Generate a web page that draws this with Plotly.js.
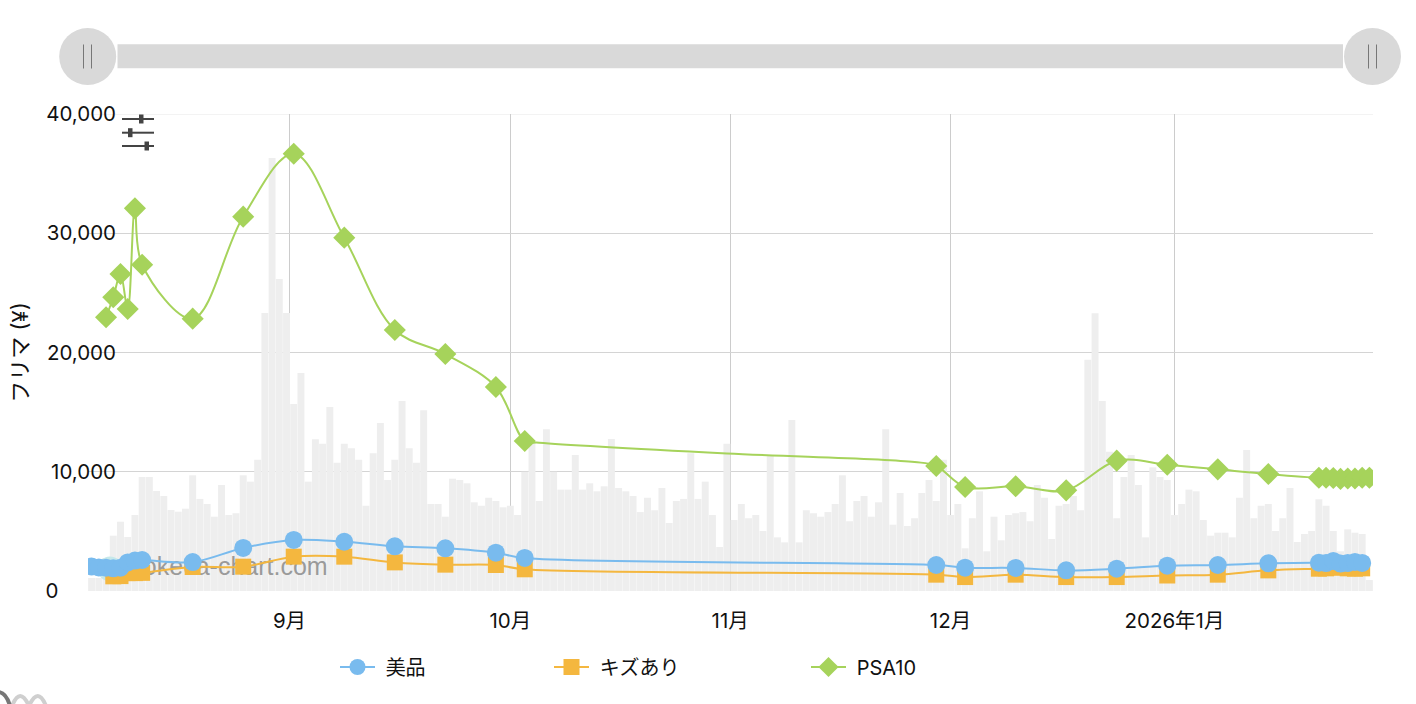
<!DOCTYPE html>
<html><head><meta charset="utf-8">
<script src="https://cdn.plot.ly/plotly-3.0.1.min.js"></script>
<style>html,body{margin:0;padding:0;background:#fff;overflow:hidden}</style>
</head><body><div id="chart" style="width:1416px;height:704px"></div>
<script>
const tickPositions=[27.41,58.0,88.46,118.97,150.0];
const tickLabels=['9月','10月','11月','12月','2026年1月'];
const yTicks=[0,10000,20000,30000,40000];
const pad='\u00A0'.repeat(10);
const yTickLabels=['0'+pad,'10,000','20,000','30,000','40,000'];
const volumeBars=[1090,1090,2770,4640,5810,4530,6370,9560,9560,8390,7970,6790,6650,6900,9700,7720,7300,6230,8890,6370,6520,9700,9170,11010,23310,36310,26160,23310,15680,18280,9170,12720,12350,15430,10760,12350,11970,11010,7150,11550,14090,9310,11010,15930,11970,10760,15150,7300,7300,6230,9420,9310,9030,7440,7150,7820,7550,7020,7150,6370,10000,12410,7550,13560,10000,8500,8500,11400,8500,9030,8360,8780,12750,8640,8360,7970,6620,7820,6770,8640,5700,7550,7720,11550,7720,9170,6370,3690,12350,5950,7300,6100,6370,5030,11400,4500,4080,14340,4080,6770,6520,6230,6620,7300,9700,5850,7550,7970,6230,7440,13560,5560,8220,5450,6100,8220,9310,7550,11010,6370,7300,3580,6100,8360,3330,6230,4250,6370,6520,6620,5850,8890,7820,4360,7150,7300,7970,6770,19400,23290,15930,11680,6100,9560,11400,8890,4500,10370,9560,9310,6370,7300,8500,8360,5950,4640,4890,4890,4500,7820,11820,6100,7150,7300,5030,6100,8640,4110,4780,5030,7690,7150,5030,3330,5170,4890,4780,920];
const barIndex=volumeBars.map((_,i)=>i);
const bihinX=[0,1,2,3,4,5,6,7,14,21,28,35,42,49,56,60,117,121,128,135,142,149,156,163,170,171,172,173,174,175,176];
const bihinY=[2050,1980,1950,1900,1950,2400,2550,2600,2430,3610,4280,4130,3750,3580,3210,2770,2180,1960,1930,1730,1870,2120,2180,2320,2370,2340,2520,2300,2340,2440,2350];
const kizuX=[3,4,5,6,7,14,21,28,35,42,49,56,60,117,121,128,135,142,149,156,163,170,171,172,173,174,175,176];
const kizuY=[1230,1250,1500,1500,1520,2010,2040,2880,2880,2400,2210,2180,1820,1370,1170,1370,1170,1170,1300,1370,1730,1870,1900,2000,1950,1900,1870,1900];
// The long gap after 10月 carries line readings (62, 88, 114) with no marker on them.
const psaX=[2,3,4,5,6,7,14,21,28,35,42,49,56,60,62,88,114,117,121,128,135,142,149,156,163,170,171,172,173,174,175,176,177];
const psaY=[22950,24630,26580,23650,32090,27360,22840,31390,36670,29630,21890,19870,17110,12580,12440,11540,10820,10480,8720,8780,8440,10930,10590,10200,9810,9500,9500,9480,9400,9430,9440,9500,9500];
const psaMarkerSizes=[17,17,17,17,17,17,17,17,17,17,17,17,17,17,0,0,0,17,17,17,17,17,17,17,17,17,17,17,17,17,17,17,17];
const seriesNames=['\u00A0美品','\u00A0キズあり','\u00A0PSA10'];
const watermarkText='pokeca-chart.com';
const yTitle='フリマ (¥)';

const FONT="Inter, 'Noto Sans CJK JP', sans-serif";
const L=88,R=1373,T=114,B=591;
const fx=p=>(p-L)/(R-L), fy=p=>(B-p)/(B-T);
const line=(c,w)=>({color:c,width:w});
function rect(x0,y0,x1,y1,fill){return {type:'rect',xref:'paper',yref:'paper',x0:fx(x0),x1:fx(x1),y0:fy(y0),y1:fy(y1),fillcolor:fill,line:{width:0},layer:'above'};}
function seg(x0,y0,x1,y1,c,w,layer){return {type:'line',xref:'paper',yref:'paper',x0:fx(x0),x1:fx(x1),y0:fy(y0),y1:fy(y1),line:line(c,w),layer:layer||'above'};}
function circ(cx,cy,r,fill){return {type:'circle',xref:'paper',yref:'paper',x0:fx(cx-r),x1:fx(cx+r),y0:fy(cy-r),y1:fy(cy+r),fillcolor:fill,line:{width:0},layer:'above'};}
function path(pts,c,w){
  const s=pts.map(a=>{const o=[a[0]];for(let i=1;i<a.length;i+=2){o.push(fx(a[i])+','+fy(a[i+1]));}return o.join(' ');}).join(' ');
  return {type:'path',xref:'paper',yref:'paper',path:s,line:line(c,w),fillcolor:'rgba(0,0,0,0)',layer:'above'};
}
const shapes=[
  rect(117.5,44.3,1343,68.3,'#d9d9d9'),
  circ(87.7,56.5,28.5,'#d9d9d9'),
  circ(1372.5,56.5,28.5,'#d9d9d9'),
  seg(83.5,44.5,83.5,68.5,'#777',1),seg(91.5,44.5,91.5,68.5,'#777',1),
  seg(1368.5,44.5,1368.5,68.5,'#777',1),seg(1376.5,44.5,1376.5,68.5,'#777',1),
  seg(88,114.5,1373,114.5,'#f3f3f3',1,'below'),
  seg(122,119,154,119,'#444',2),rect(139,114.5,143.5,123.5,'#444'),
  seg(122,132.7,154,132.7,'#444',2),rect(128,128.2,132.5,137.2,'#444'),
  seg(122,146,154,146,'#444',2),rect(144.5,141.5,149,150.5,'#444'),
  path([['M',12,706],['Q',20,686,29,706],['Q',38,686,46,706]],'#cfcfcf',4),
  path([['M',-2,692],['Q',6,692,10,706]],'#777',4)
];
const data=[
 {type:'bar',x:barIndex,y:volumeBars,marker:{color:'#eeeeee',line:{width:0}},showlegend:false,hoverinfo:'skip'},
 {type:'scatter',mode:'markers',x:[2.55],y:[1845],marker:{size:25,color:'#c6e8ea'},showlegend:false,hoverinfo:'skip'},
 {type:'scatter',mode:'text',x:[32.7],y:[1845],text:[watermarkText],textposition:'middle left',textfont:{family:"'Liberation Sans',sans-serif",size:25,color:'#9a9a9a'},showlegend:false,hoverinfo:'skip'},
 {type:'scatter',mode:'lines+markers',name:seriesNames[1],x:kizuX,y:kizuY,line:{color:'#f4b73f',width:2,shape:'spline'},marker:{symbol:'square',size:16,color:'#f4b73f'},legend:'legend2'},
 {type:'scatter',mode:'lines+markers',name:seriesNames[0],x:bihinX,y:bihinY,line:{color:'#79bbee',width:2,shape:'spline'},marker:{symbol:'circle',size:18,color:'#79bbee'},legend:'legend'},
 {type:'scatter',mode:'lines+markers',name:seriesNames[2],x:psaX,y:psaY,line:{color:'#a6d35b',width:2,shape:'spline'},marker:{symbol:'diamond',size:psaMarkerSizes,color:'#a6d35b',opacity:1,line:{width:0}},legend:'legend3'}
];
const lg=(px)=>({x:fx(px),y:fy(667),xanchor:'left',yanchor:'middle',orientation:'h',itemwidth:35,bgcolor:'rgba(0,0,0,0)',font:{family:FONT,size:20,color:'#111'},itemclick:false,itemdoubleclick:false});
const layout={
 width:1416,height:704,margin:{l:L,r:1416-R,t:T,b:704-B,pad:0},
 paper_bgcolor:'#fff',plot_bgcolor:'#fff',bargap:0.04,showlegend:true,
 font:{family:FONT,size:20,color:'#111'},
 xaxis:{range:[-0.5,177.5],tickmode:'array',tickvals:tickPositions,ticktext:tickLabels,showgrid:true,gridcolor:'#cccccc',gridwidth:1,zeroline:false,showline:false,ticks:'',ticklabelstandoff:15,tickfont:{family:FONT,size:20.5,color:'#111'}},
 yaxis:{range:[0,40000],tickmode:'array',tickvals:yTicks,ticktext:yTickLabels,showgrid:true,gridcolor:'#d4d4d4',gridwidth:1,zeroline:false,showline:false,ticks:'',ticklabelstandoff:-29,tickfont:{family:FONT,size:20.5,color:'#111'},
   title:{text:yTitle,font:{family:FONT,size:22,color:'#111'},standoff:10}},
 legend:lg(335),legend2:lg(549),legend3:lg(806),
 shapes:shapes
};
Plotly.newPlot('chart',data,layout,{displayModeBar:false,staticPlot:true});
</script></body></html>
